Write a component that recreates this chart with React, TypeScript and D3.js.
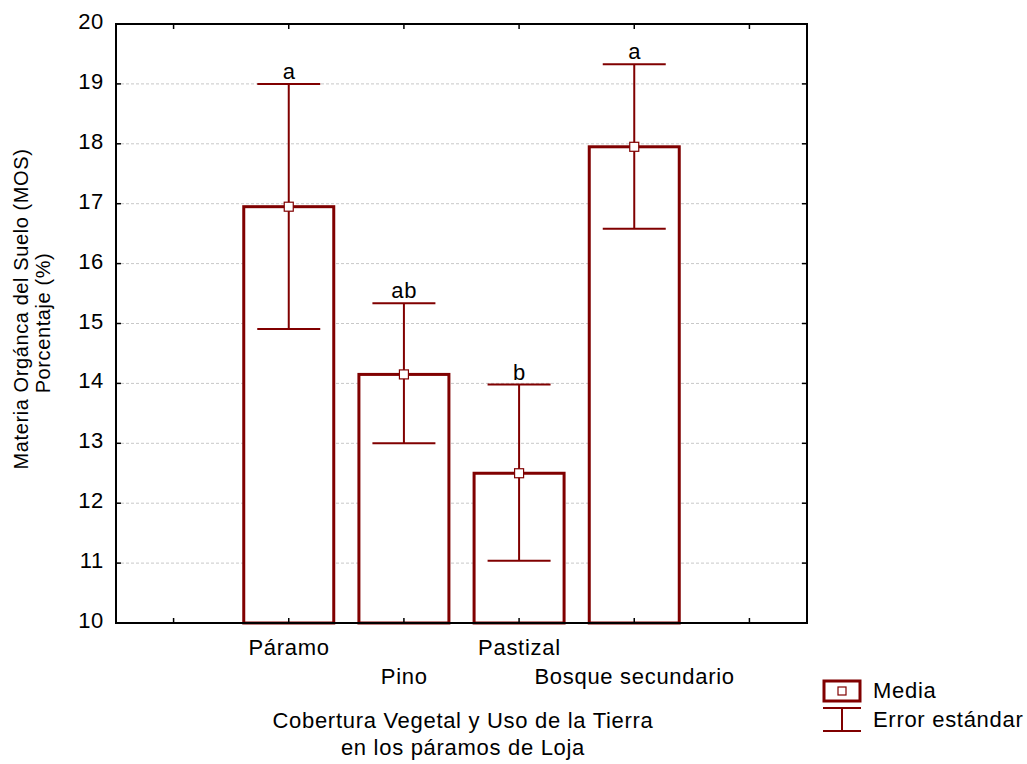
import React from 'react';
import * as d3 from 'd3';

// data
const categories = ['', 'Páramo', 'Pino', 'Pastizal', 'Bosque secundario', ''];
const barCats = ['Páramo', 'Pino', 'Pastizal', 'Bosque secundario'];
const means = [16.95, 14.15, 12.5, 17.95];
const errLow = [14.91, 13.0, 11.04, 16.58];
const errHigh = [19.0, 15.34, 13.98, 19.33];
const letters = ['a', 'ab', 'b', 'a'];
const yTicks = [10, 11, 12, 13, 14, 15, 16, 17, 18, 19, 20];

export default function App() {
  const width = 1027, height = 764;
  const left = 116, right = 807, top = 24, bottom = 623;
  const color = '#800000';
  const font = '"Liberation Sans", Arial, sans-serif';
  const fs = 22, ls = 0.7;

  const x = d3.scaleBand().domain(categories.map((c, i) => i + c)).range([left, right]);
  const y = d3.scaleLinear().domain([10, 20]).range([bottom, top]);
  const xc = (i) => x(i + categories[i])! + x.bandwidth() / 2;
  const barW = 90, capW = 63;

  return (
    <svg width={width} height={height} style={{ position: 'absolute', left: 0, top: 0 }}
         fontFamily={font} fontSize={fs} letterSpacing={ls}>
      <rect width={width} height={height} fill="white" />
      {yTicks.slice(1, -1).map(t => (
        <line key={t} x1={left} x2={right} y1={y(t)} y2={y(t)} stroke="#c8c8c8" strokeDasharray="3,2" />
      ))}
      {barCats.map((c, j) => {
        const i = categories.indexOf(c);
        const cx = xc(i);
        return (
          <g key={c}>
            <rect x={cx - barW / 2} y={y(means[j])} width={barW} height={bottom - y(means[j])}
                  fill="white" stroke={color} strokeWidth={3} />
            <line x1={cx} x2={cx} y1={y(errLow[j])} y2={y(errHigh[j])} stroke={color} strokeWidth={2} />
            <line x1={cx - capW / 2} x2={cx + capW / 2} y1={y(errHigh[j])} y2={y(errHigh[j])} stroke={color} strokeWidth={2} />
            <line x1={cx - capW / 2} x2={cx + capW / 2} y1={y(errLow[j])} y2={y(errLow[j])} stroke={color} strokeWidth={2} />
            <rect x={cx - 4.5} y={y(means[j]) - 4.5} width={9} height={9} fill="white" stroke={color} strokeWidth={1.2} />
            <text x={cx + ls / 2} y={y(errHigh[j]) - 5} textAnchor="middle">{letters[j]}</text>
          </g>
        );
      })}
      <rect x={left} y={top} width={right - left} height={bottom - top} fill="none" stroke="black" strokeWidth={2} />
      {yTicks.map(t => (
        <g key={t}>
          <line x1={left} x2={left + 5} y1={y(t)} y2={y(t)} stroke="black" strokeWidth={1.5} />
          <line x1={right} x2={right - 5} y1={y(t)} y2={y(t)} stroke="black" strokeWidth={1.5} />
          <text x={104} y={y(t) + 5} textAnchor="end">{t}</text>
        </g>
      ))}
      {categories.map((c, i) => (
        <g key={i}>
          <line x1={xc(i)} x2={xc(i)} y1={bottom} y2={bottom - 5} stroke="black" strokeWidth={1.5} />
          <line x1={xc(i)} x2={xc(i)} y1={top} y2={top + 5} stroke="black" strokeWidth={1.5} />
          {c && <text x={xc(i) + ls / 2} y={i % 2 === 1 ? 655 : 684} textAnchor="middle">{c}</text>}
        </g>
      ))}
      <g fontSize={20} letterSpacing={0.6}>
        <text transform={`translate(28,309) rotate(-90)`} textAnchor="middle">Materia Orgánca del Suelo (MOS)</text>
        <text transform={`translate(50,323) rotate(-90)`} textAnchor="middle">Porcentaje (%)</text>
      </g>
      <text x={463} y={728} textAnchor="middle">Cobertura Vegetal y Uso de la Tierra</text>
      <text x={463} y={755} textAnchor="middle">en los páramos de Loja</text>
      <g>
        <rect x={824} y={681} width={36} height={20} fill="white" stroke={color} strokeWidth={3} />
        <rect x={838} y={687} width={8} height={8} fill="white" stroke={color} strokeWidth={1.2} />
        <text x={873} y={698}>Media</text>
        <line x1={823} x2={861} y1={708} y2={708} stroke={color} strokeWidth={2} />
        <line x1={823} x2={861} y1={731} y2={731} stroke={color} strokeWidth={2} />
        <line x1={842} x2={842} y1={708} y2={731} stroke={color} strokeWidth={2} />
        <text x={873} y={727}>Error estándar</text>
      </g>
    </svg>
  );
}
